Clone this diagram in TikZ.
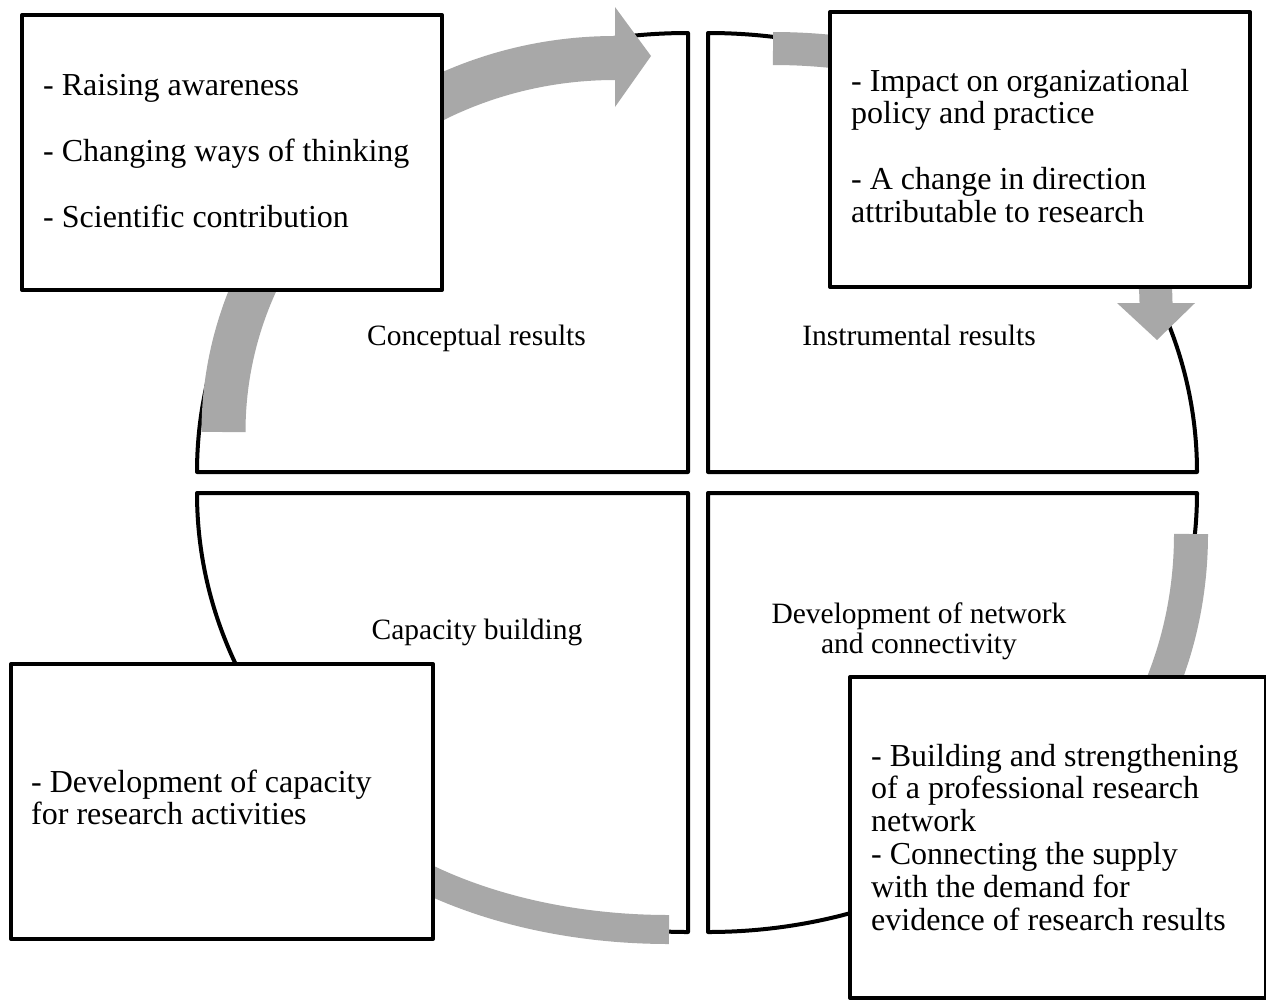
\documentclass[tikz,border=0pt]{standalone}
\usepackage{fontspec}
\setmainfont{Liberation Serif}
\definecolor{arrowgray}{RGB}{168,168,168}
\newcommand{\txtblock}[2]{\vtop{\baselineskip=#1\relax #2}}
\newcommand{\tline}[1]{\hbox{#1}}
\newcommand{\ctrlines}[1]{\vtop{\baselineskip=30pt\relax\halign{\hfil##\hfil\cr#1\crcr}}}
\begin{document}
\begin{tikzpicture}[x=1pt,y=-1pt,
  quad/.style={draw=black,line width=4pt,line join=round,fill=white},
  infobox/.style={draw=black,line width=4pt,line join=round,fill=white,rectangle,inner sep=0pt,anchor=north west},
  cyc/.style={draw=arrowgray,line cap=butt},
  headtip/.style={fill=arrowgray},
  boxtext/.style={font=\fontsize{32}{33}\selectfont,inner sep=0pt,anchor=base west},
  qlabel/.style={font=\fontsize{29.5}{30}\selectfont,inner sep=0pt,anchor=base},
]
\useasboundingbox (0,0) rectangle (1266,999);

% quadrants
\draw[quad] (688,472) -- (197,472) arc[start angle=180,end angle=270,x radius=491,y radius=439] -- cycle;
\draw[quad] (708,472) -- (708,33) arc[start angle=270,end angle=360,x radius=489,y radius=439] -- cycle;
\draw[quad] (708,493) -- (1197,493) arc[start angle=0,end angle=90,x radius=489,y radius=439] -- cycle;
\draw[quad] (688,493) -- (688,932) arc[start angle=90,end angle=180,x radius=491,y radius=439] -- cycle;

% quadrant labels
\node[qlabel] (lblTL) at (476.5,345) {Conceptual results};
\node[qlabel] (lblTR) at (919,345) {Instrumental results};
\node[qlabel] (lblBL) at (477,639) {Capacity building};
\node[qlabel] (lblBR) at (919,623) {\ctrlines{Development of network\cr and connectivity}};

% cycle arrows
\draw[cyc,line width=44pt] (223.5,432) arc[start angle=180,end angle=270,x radius=391.5,y radius=374];
\fill[headtip] (615,7) -- (651,56) -- (615,107) -- cycle;
\draw[cyc,line width=33pt] (773,48.5) arc[start angle=270,end angle=360,x radius=383,y radius=254.5];
\fill[headtip] (1117,303) -- (1195,303) -- (1157,340) -- cycle;
\draw[cyc,line width=34pt] (1191,534) arc[start angle=0,end angle=90,x radius=291,y radius=347];
\fill[headtip] (900,842) -- (900,920) -- (863,881) -- cycle;
\draw[cyc,line width=29pt] (669,929.5) arc[start angle=90,end angle=180,x radius=386,y radius=229.5];
\fill[headtip] (244,700) -- (322,700) -- (283,663) -- cycle;

% boxes
\node[infobox,minimum width=420pt,minimum height=275pt] (boxTL) at (20,13) {};
\node[infobox,minimum width=420pt,minimum height=275pt] (boxTR) at (828,10) {};
\node[infobox,minimum width=422pt,minimum height=275pt] (boxBL) at (9,662) {};
\node[infobox,minimum width=416pt,minimum height=321pt] (boxBR) at (848,675) {};

% box texts
\node[boxtext] (txtTL) at (43,95) {\txtblock{33.2pt}{\tline{- Raising awareness}\tline{}\tline{- Changing ways of thinking}\tline{}\tline{- Scientific contribution}}};
\node[boxtext] (txtTR) at (851,91) {\txtblock{32.8pt}{\tline{- Impact on organizational}\tline{policy and practice}\tline{}\tline{- A change in direction}\tline{attributable to research}}};
\node[boxtext] (txtBL) at (31,792) {\txtblock{32.8pt}{\tline{- Development of capacity}\tline{for research activities}}};
\node[boxtext] (txtBR) at (871,766) {\txtblock{32.8pt}{\tline{- Building and strengthening}\tline{of a professional research}\tline{network}\tline{- Connecting the supply}\tline{with the demand for}\tline{evidence of research results}}};
\end{tikzpicture}
\end{document}
